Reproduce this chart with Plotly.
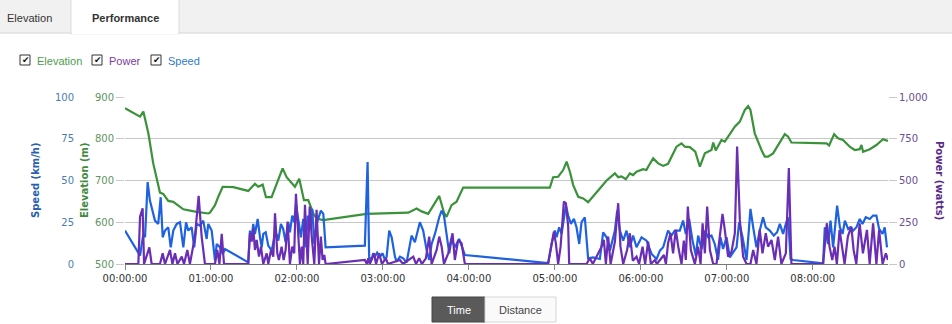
import plotly.graph_objects as go
import pandas as pd

W, H = 952, 324

# ---- data (time in minutes from start) ----
elev_min = [0, 10.5, 12.8, 16.3, 19.7, 24.4, 26.7, 30.2, 33.7, 40.7, 50.0, 58.1, 59.3, 62.8, 65.1, 68.2, 75.6, 86.0,
            90.7, 93.0, 96.1, 98.4, 102.3, 110.0, 112.8, 118.6, 121.6, 124.9, 127.9, 131.4, 133.7, 138.3, 168.6,
            180.2, 187.2, 197.7, 203.5, 207.0, 211.6, 215.1, 219.3, 222.6, 224.4, 227.9, 231.4, 236.0, 296.5, 298.8,
            302.3, 305.8, 308.2, 310.5, 312.8, 316.3, 319.8, 323.2, 326.7, 331.4, 336.1, 341.9, 344.2, 346.5, 349.5,
            352.3, 354.6, 357.0, 361.6, 363.9, 365.1, 368.6, 372.1, 375.6, 379.0, 382.5, 384.9, 388.4, 390.7, 394.2,
            398.0, 401.2, 404.7, 409.3, 410.5, 412.3, 416.3, 418.6, 422.1, 425.6, 429.1, 432.6, 434.9, 436.5, 439.5,
            441.9, 444.2, 446.5, 448.8, 452.3, 457.0, 460.5, 462.8, 465.1, 489.6, 491.4, 494.9, 497.6, 501.1, 505.8,
            509.3, 512.8, 514.0, 515.1, 519.8, 524.4, 529.0, 532.5]
elev_m = [873, 853, 865, 813, 741, 671, 668, 651, 649, 631, 625, 621, 623, 641, 661, 685, 684, 675,
          692, 685, 690, 660, 660, 729, 708, 685, 704, 653, 653, 621, 609, 605, 620,
          621, 623, 623, 633, 626, 620, 641, 663, 623, 613, 641, 649, 683, 683, 708,
          709, 725, 745, 721, 689, 661, 657, 648, 663, 681, 700, 717, 708, 710, 703,
          717, 713, 721, 727, 725, 733, 753, 741, 735, 740, 765, 781, 789, 781, 780,
          769, 733, 765, 773, 791, 772, 797, 793, 811, 829, 841, 869, 878, 869, 813,
          791, 773, 757, 757, 765, 793, 811, 805, 791, 789, 784, 811, 801, 797, 781,
          773, 775, 785, 769, 775, 785, 799, 795]

speed_min = [0, 10.5, 12.8, 14.0, 15.8, 17.4, 20.9, 23.2, 24.9, 26.3, 27.9, 30.2, 31.9, 33.7, 36.1, 38.4, 40.7,
             42.6, 44.2, 46.5, 48.3, 50.0, 52.3, 54.6, 57.0, 58.1, 60.5, 62.8, 64.0, 66.3, 68.2, 69.8, 86.0,
             87.2, 88.4, 89.5, 90.7, 92.6, 94.2, 95.4, 96.5, 98.2, 100.0, 102.4, 104.2, 105.8, 107.0, 108.8,
             110.4, 112.1, 113.9, 115.1, 116.7, 118.1, 119.3, 120.9, 122.8, 124.4, 126.1, 127.5, 129.1, 130.7,
             132.1, 133.7, 135.4, 136.7, 138.4, 140.0, 167.4, 169.3, 170.4, 172.1, 173.2, 174.4, 176.0, 177.9,
             179.8, 181.4, 182.6, 184.4, 186.1, 188.4, 189.6, 191.9, 194.2, 196.5, 200.0, 202.3, 205.8, 208.1,
             210.5, 212.3, 214.0, 216.3, 219.3, 221.0, 222.6, 224.4, 226.3, 227.9, 230.2, 233.2, 235.6, 237.2,
             295.3, 297.7, 300.0, 301.2, 303.0, 304.7, 307.7, 309.3, 311.2, 313.3, 315.1, 317.0, 318.6, 320.9,
             323.2, 326.7, 331.4, 333.7, 336.1, 338.4, 341.9, 343.5, 345.4, 347.7, 350.0, 352.3, 354.6, 357.0,
             360.5, 364.0, 367.5, 371.0, 373.3, 375.6, 379.0, 381.4, 383.7, 387.2, 389.5, 391.4, 393.7, 396.1,
             398.4, 400.0, 402.4, 404.7, 407.0, 409.3, 411.6, 413.9, 415.6, 417.4, 419.8, 422.1, 424.4, 426.8,
             428.6, 431.0, 433.8, 436.5, 438.4, 440.7, 443.0, 445.3, 447.2, 450.0, 452.8, 455.1, 457.0, 459.3,
             461.2, 462.8, 464.5, 466.3, 487.2, 488.4, 490.7, 492.4, 494.2, 497.0, 498.9, 500.8, 502.4, 504.7,
             506.3, 508.2, 510.5, 512.8, 514.7, 517.0, 519.8, 522.1, 524.4, 526.3, 528.7, 530.2, 531.8]
speed_kmh = [20, 5, 18, 16, 49, 38, 26, 24, 40, 16, 20, 22, 10, 20, 24, 25, 10,
             25, 20, 22, 10, 24, 23, 26, 15, 24, 20, 2, 12, 10, 6, 9, 1,
             20, 15, 24, 18, 27, 16, 10, 18, 19, 11, 8, 16, 18, 14, 24,
             21, 13, 25, 19, 29, 25, 36, 28, 16, 27, 10, 29, 21, 33,
             12, 24, 29, 32, 30, 10, 11, 61, 4, 2.4, 6.4, 4.4, 6.8, 4.4,
             6.4, 2.4, 4.4, 20, 16, 4.4, 1.4, 4.4, 3.4, 0.8, 17, 13, 25, 20,
             8.4, 2.4, 12, 18, 28, 32, 29, 18, 6.4, 15, 10, 15, 8.4, 5.4,
             0.5, 12, 20, 16, 22, 18, 35, 29, 24, 27, 22, 12, 25, 28,
             3.4, 4, 3, 19, 16, 8, 20, 32, 20, 14, 20, 10, 17, 10,
             16, 14, 6, 3, 8, 10, 20, 17, 20, 20, 26, 18, 27, 14,
             5, 17, 9, 20, 16, 17, 12, 2.4, 16, 9, 16, 4, 7, 10,
             25, 16, 2.4, 33, 22, 10, 20, 28, 22, 20, 17, 19, 24, 18,
             24, 28, 3, 2.4, 0.4, 22, 12, 26, 10, 35, 22, 18, 26, 21,
             22, 20, 22, 27, 24, 28, 27, 29, 29, 21, 18, 22, 10]

power_min = [0, 9.3, 10.5, 11.7, 12.3, 13.3, 17.0, 18.6, 24.4, 26.3, 27.9, 31.4, 33.1, 34.9, 36.6, 39.6, 41.2,
             43.5, 45.3, 48.8, 51.4, 53.5, 55.8, 62.8, 64.4, 65.9, 67.5, 69.1, 86.0, 87.2, 88.4, 89.5, 90.7,
             91.9, 93.5, 94.9, 96.5, 98.9, 100.0, 101.9, 103.5, 104.7, 106.3, 107.4, 109.3, 110.7, 112.1, 113.5,
             115.1, 116.7, 118.1, 119.3, 120.9, 122.1, 123.3, 124.4, 125.6, 127.5, 128.9, 130.3, 132.1, 133.7,
             135.4, 136.7, 137.9, 139.1, 140.0, 167.4, 168.8, 169.8, 170.9, 173.8, 175.2, 177.4, 179.3, 182.1,
             183.5, 191.9, 194.0, 201.2, 203.1, 205.3, 207.2, 210.0, 212.3, 214.0, 217.5, 219.3, 221.0, 222.6,
             225.6, 228.6, 230.2, 232.5, 234.9, 237.2, 295.3, 297.7, 299.3, 300.7, 302.3, 304.0, 305.4, 306.3,
             307.7, 309.3, 310.0, 322.1, 324.4, 326.5, 332.6, 334.2, 335.6, 337.2, 338.9, 341.9, 344.2, 345.8,
             347.7, 350.4, 352.3, 354.4, 357.0, 358.8, 361.2, 363.0, 365.1, 367.0, 369.8, 371.2, 376.1, 377.5,
             379.0, 380.7, 382.5, 384.4, 386.3, 388.4, 390.0, 391.4, 392.8, 394.9, 397.7, 400.0, 401.7, 403.1,
             404.7, 406.3, 408.2, 410.5, 412.8, 414.6, 417.0, 418.6, 420.9, 423.3, 425.6, 427.2, 429.1, 431.4,
             433.8, 436.5, 438.4, 440.7, 443.0, 444.9, 447.2, 448.8, 451.2, 453.5, 455.8, 458.1, 461.2, 463.3,
             465.1, 487.2, 489.8, 491.7, 493.6, 495.2, 496.8, 498.7, 500.6, 502.2, 504.5, 506.9, 508.5, 510.4,
             512.7, 515.0, 517.8, 519.7, 522.1, 524.4, 526.3, 528.7, 531.0, 532.5]
power_w = [0, 0, 284, 324, 334, 0, 100, 0, 0, 64, 0, 84, 0, 64, 0, 44, 0,
           84, 0, 164, 408, 164, 0, 0, 84, 0, 180, 0, 0, 184, 134, 214, 84,
           144, 44, 104, 0, 64, 0, 84, 44, 304, 64, 24, 104, 24, 84, 254,
           0, 104, 64, 420, 164, 0, 104, 0, 354, 0, 344, 164, 0, 324,
           0, 164, 24, 54, 0, 24, 0, 34, 0, 64, 0, 64, 0, 34,
           0, 24, 0, 44, 0, 34, 0, 34, 164, 0, 84, 164, 104, 0,
           64, 184, 24, 144, 124, 0, 0, 124, 194, 124, 0, 104, 264, 374,
           364, 224, 0, 0, 34, 0, 104, 144, 0, 164, 0, 134, 364, 104,
           0, 84, 184, 20, 44, 0, 104, 0, 134, 0, 24, 0, 54, 0,
           124, 184, 64, 204, 94, 0, 140, 24, 344, 84, 0, 104, 0, 244,
           64, 344, 84, 0, 0, 144, 300, 204, 44, 74, 184, 704, 264, 44,
           0, 0, 84, 0, 204, 64, 184, 104, 144, 24, 164, 0, 64, 574,
           0, 0, 244, 104, 24, 104, 0, 204, 84, 0, 164, 224, 84, 0,
           244, 64, 204, 0, 244, 0, 204, 0, 64, 24]

tab_labels = ["Elevation", "Performance"]
series_names = ["Elevation", "Power", "Speed"]
button_labels = ["Time", "Distance"]

base = pd.Timestamp("2000-01-01 00:00:00")
def to_t(mins):
    return [base + pd.Timedelta(minutes=m) for m in mins]

GREEN = "#3a923a"
PURPLE = "#6a2db5"
BLUE = "#1f62e0"
FONT = "DejaVu Sans"
UIFONT = "Liberation Sans"

def px(x):
    return x / W
def py(y):
    return 1 - y / H

fig = go.Figure()
fig.add_trace(go.Scatter(x=to_t(speed_min), y=speed_kmh, yaxis="y2", mode="lines",
                         line=dict(color=BLUE, width=2.2), name="Speed"))
fig.add_trace(go.Scatter(x=to_t(power_min), y=power_w, yaxis="y3", mode="lines",
                         line=dict(color=PURPLE, width=2.2), name="Power"))
fig.add_trace(go.Scatter(x=to_t(elev_min), y=elev_m, yaxis="y", mode="lines",
                         line=dict(color=GREEN, width=2.2), name="Elevation"))

x0, x1 = 125, 888
yt, yb = 97, 264

fig.update_layout(
    width=W, height=H, margin=dict(l=0, r=0, t=0, b=0, pad=0, autoexpand=False),
    paper_bgcolor="white", plot_bgcolor="white", showlegend=False,
    font=dict(family=FONT, size=10, color="#333"),
    xaxis=dict(domain=[px(x0), px(x1)], type="date", automargin=False,
               range=[base, base + pd.Timedelta(minutes=532.5)],
               tickformat="%H:%M:%S", dtick=3600000, tick0=base,
               showgrid=False, zeroline=False, showline=True, linecolor="#777", linewidth=1,
               ticks="outside", ticklen=5, tickcolor="#888",
               tickfont=dict(family=FONT, size=10, color="#333")),
    yaxis=dict(domain=[py(yb), py(yt)], range=[500, 900], dtick=100, side="left", automargin=False,
               showgrid=True, gridcolor="#c8c8c8", gridwidth=1, zeroline=False,
               ticks="outside", ticklen=8, tickcolor="#c8c8c8",
               tickfont=dict(family=FONT, size=10, color="#5f935f")),
    yaxis2=dict(overlaying="y", anchor="free", position=px(74), side="left", automargin=False,
                range=[0, 100], dtick=25, showgrid=False, zeroline=False, showline=False,
                tickfont=dict(family=FONT, size=10, color="#4a7eb0")),
    yaxis3=dict(overlaying="y", anchor="x", side="right", range=[0, 1000], dtick=250, automargin=False,
                tickformat=",", showgrid=False, zeroline=False, showline=False,
                ticks="outside", ticklen=8, tickcolor="#c8c8c8",
                tickfont=dict(family=FONT, size=10, color="#6b4f92")),
)

shapes = []
annotations = []

def label(text, x, y, size, color, xanchor="center", angle=0, family=FONT):
    annotations.append(dict(text=text, x=px(x), y=py(y), xref="paper", yref="paper",
                            xanchor=xanchor, yanchor="middle", textangle=angle, showarrow=False,
                            font=dict(family=family, size=size, color=color)))

def rect(xa, xb, ya, yb_, fill, line_color, lw=1):
    shapes.append(dict(type="rect", xref="paper", yref="paper", x0=px(xa), x1=px(xb),
                       y0=py(yb_), y1=py(ya), fillcolor=fill,
                       line=dict(color=line_color, width=lw)))

# tab bar
rect(-1, W + 1, -1, 33, "#f1f1f1", "#d4d4d4")
rect(71, 179, -1, 34, "white", "#dcdcdc")
shapes.append(dict(type="line", xref="paper", yref="paper", x0=px(72), x1=px(178), y0=py(33.5), y1=py(33.5),
                   line=dict(color="white", width=2)))
label(tab_labels[0], 29, 18, 11, "#333", family=UIFONT)
label("<b>" + tab_labels[1] + "</b>", 125, 18, 11, "#333", family=UIFONT)

# legend checkboxes
legend_items = [(20, series_names[0], "#4d9d4d"), (92, series_names[1], "#7a3d9c"), (151, series_names[2], "#2f7cbf")]
for cx, name, col in legend_items:
    rect(cx, cx + 10, 55, 65, "white", "#333")
    label("✔", cx + 5.5, 60, 9, "#111")
    label(name, cx + 15, 60.5, 11, col, xanchor="left", family=UIFONT)

# axis titles
label("<b>Speed (km/h)</b>", 35, 180, 10, "#2a5fae", angle=-90)
label("<b>Elevation (m)</b>", 84, 180, 10, "#3f8a3f", angle=-90)
label("<b>Power (watts)</b>", 940, 180, 10, "#5a2a8a", angle=90)

# bottom buttons
rect(432, 485, 297, 322, "#5a5a5a", "#444")
rect(485, 556, 297, 322, "#fafafa", "#d6d6d6")
label(button_labels[0], 458.5, 310, 11, "white", family=UIFONT)
label(button_labels[1], 520.5, 310, 11, "#444", family=UIFONT)

fig.update_layout(shapes=shapes, annotations=annotations)
fig.write_html("out.html")
